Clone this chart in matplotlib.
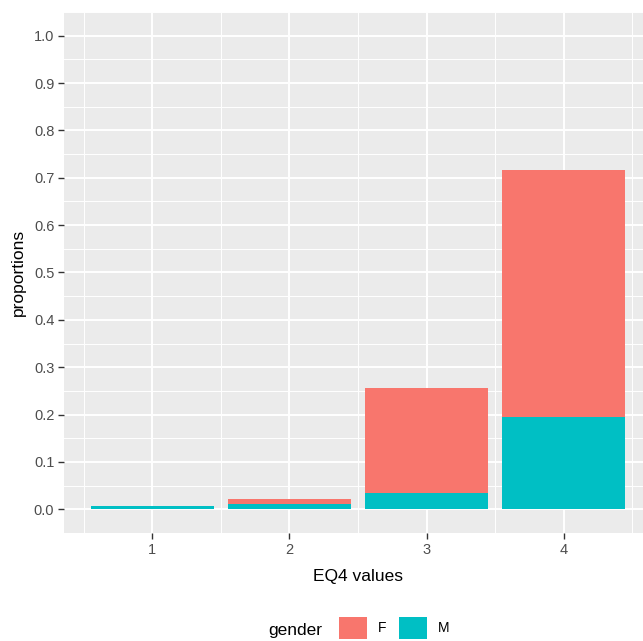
import numpy as np
import matplotlib.pyplot as plt
from matplotlib.ticker import MultipleLocator

plt.rcParams['font.family'] = ['Liberation Sans', 'DejaVu Sans']

eq4_values = [1, 2, 3, 4]
prop_M = [0.008, 0.012, 0.035, 0.194]
prop_F = [0.000, 0.010, 0.221, 0.523]
genders = ["F", "M"]
colors = {"F": "#F8766D", "M": "#00BFC4"}

fig = plt.figure(figsize=(6.43, 6.41), dpi=100)
W, H = 643, 641
left, right, top, bottom = 64, 652, 12, 533
ax = fig.add_axes([left / W, 1 - bottom / H, (right - left) / W, (bottom - top) / H])
ax.set_facecolor("#EBEBEB")

bM = ax.bar(eq4_values, prop_M, width=0.9, color=colors["M"], zorder=3)
bF = ax.bar(eq4_values, prop_F, width=0.9, bottom=prop_M, color=colors["F"], zorder=3)

ax.set_xlim(0.355, 4.645)
ax.set_ylim(-0.05, 1.05)
ax.xaxis.set_minor_locator(MultipleLocator(0.5))
ax.yaxis.set_minor_locator(MultipleLocator(0.05))
ax.set_xticks(eq4_values)
ax.set_yticks(np.arange(0, 1.01, 0.1))
ax.set_yticklabels(["%.1f" % v for v in np.arange(0, 1.01, 0.1)])

ax.grid(which="major", color="white", linewidth=1.4, zorder=0)
ax.grid(which="minor", color="white", linewidth=0.7, zorder=0)
ax.set_axisbelow(True)
for s in ax.spines.values():
    s.set_visible(False)
ax.tick_params(which="major", length=4, width=1, color="#333333",
               labelcolor="#4D4D4D", labelsize=10.5, pad=3)
ax.tick_params(which="minor", length=0)

ax.set_xlabel("EQ4 values", fontsize=12.5, color="black", labelpad=9)
ax.set_ylabel("proportions", fontsize=12.5, color="black", labelpad=6)

fig.text(268 / W, 1 - 631 / H, "gender", fontsize=12.5, va="center", ha="left")
fig.legend([bF, bM], genders, loc="center left",
           bbox_to_anchor=(339 / W, 1 - 628 / H), ncol=2, frameon=False,
           fontsize=10, handlelength=2.05, handleheight=2.1,
           handletextpad=0.75, columnspacing=0.9, borderpad=0, borderaxespad=0)

fig.savefig("out.png", dpi=100)
